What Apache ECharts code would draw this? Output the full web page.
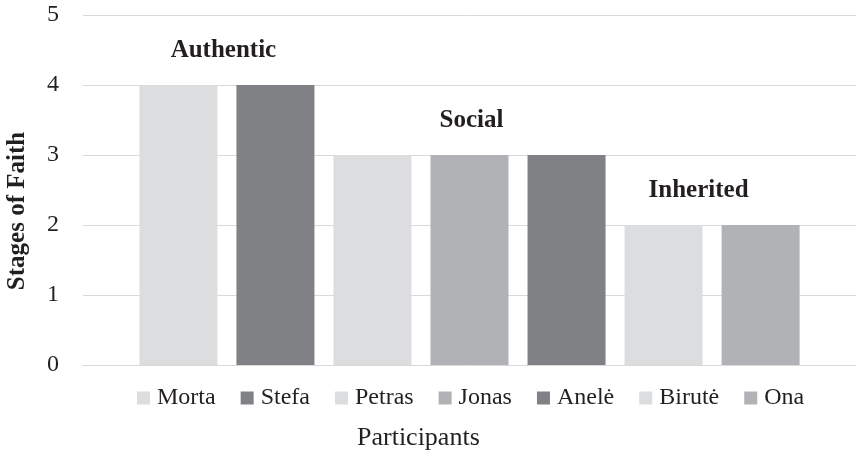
<!DOCTYPE html>
<html>
<head>
<meta charset="utf-8">
<script src="https://cdn.jsdelivr.net/npm/echarts@6/dist/echarts.min.js"></script>
<style>html,body{margin:0;padding:0;background:#fff;}#c{width:856px;height:454px;}</style>
</head>
<body>
<div id="c"></div>
<script>
const participants = ['Morta','Stefa','Petras','Jonas','Anelė','Birutė','Ona'];
const stages = [4,4,3,3,3,2,2];
const yTicks = [0,1,2,3,4,5];
const groupNames = ['Authentic','Social','Inherited'];
const groupAnchor = {Morta:'Authentic', Jonas:'Social', 'Birutė':'Inherited'};
const xTitle = 'Participants';
const yTitle = 'Stages of Faith';

const colors = ['#dcdddf','#808184','#dcdddf','#b1b2b5','#808184','#dcdddf','#b1b2b5'];
const labelDx = {Authentic:45, Social:2, Inherited:35};
const FONT = '"Liberation Serif", "DejaVu Serif", serif';
const TXT = '#231f20';

const series = participants.map((name, i) => {
  const g = groupAnchor[name];
  return {
    name: name,
    type: 'bar',
    data: [stages[i]],
    barWidth: 78,
    barGap: '24.4%',
    itemStyle: {color: colors[i]},
    emphasis: {disabled: true},
    label: g ? {
      show: true, position: 'top', distance: 0,
      offset: [labelDx[g], -22],
      formatter: () => g,
      fontFamily: FONT, fontWeight: 'bold', fontSize: 25, color: TXT
    } : {show: false}
  };
});

const chart = echarts.init(document.getElementById('c'), null, {renderer: 'canvas'});
chart.setOption({
  animation: false,
  color: colors,
  grid: {left: 83, right: 0, top: 15, bottom: 89, containLabel: false},
  xAxis: {
    type: 'category', data: [''],
    axisLine: {show: true, lineStyle: {color: '#d9d9d9', width: 1}},
    axisTick: {show: false}, axisLabel: {show: false}
  },
  yAxis: {
    type: 'value', min: yTicks[0], max: yTicks[yTicks.length-1], interval: 1,
    axisLine: {show: false}, axisTick: {show: false},
    splitLine: {lineStyle: {color: '#d9d9d9', width: 1}},
    axisLabel: {fontFamily: FONT, fontSize: 24, color: TXT, margin: 24}
  },
  legend: {
    data: participants,
    top: 381, left: 132,
    icon: 'rect', itemWidth: 13, itemHeight: 13, itemGap: 25,
    textStyle: {fontFamily: FONT, fontSize: 24, color: TXT, padding: [0,0,0,2]},
    selectedMode: false
  },
  graphic: [
    {type: 'text', left: 357, top: 425,
     style: {text: xTitle, font: '26px ' + FONT, fill: TXT}},
    {type: 'text', x: 18, y: 211, rotation: Math.PI/2,
     style: {text: yTitle, font: 'bold 25px ' + FONT, fill: TXT, align: 'center', verticalAlign: 'middle'}}
  ],
  series: series
});
</script>
</body>
</html>
